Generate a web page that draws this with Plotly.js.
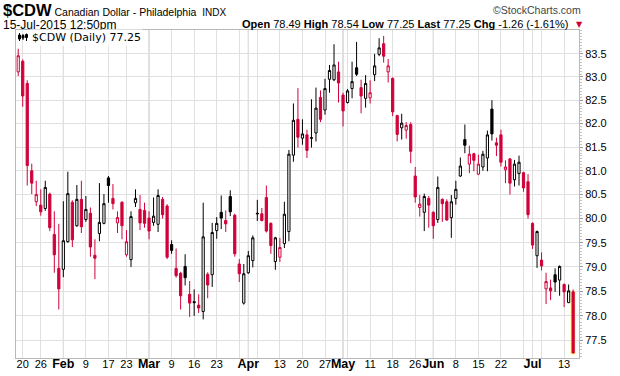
<!DOCTYPE html>
<html><head><meta charset="utf-8">
<script src="https://cdn.plot.ly/plotly-3.0.1.min.js"></script>
<style>html,body{margin:0;padding:0;background:#fff;}#chart{width:620px;height:376px;}</style>
</head><body><div id="chart"></div>
<script>
// ---- data ----
const dates = [
'2015-01-16','2015-01-20','2015-01-21','2015-01-22','2015-01-23','2015-01-26','2015-01-27','2015-01-28','2015-01-29','2015-01-30',
'2015-02-02','2015-02-03','2015-02-04','2015-02-05','2015-02-06','2015-02-09','2015-02-10','2015-02-11','2015-02-12','2015-02-13',
'2015-02-17','2015-02-18','2015-02-19','2015-02-20','2015-02-23','2015-02-24','2015-02-25','2015-02-26','2015-02-27',
'2015-03-02','2015-03-03','2015-03-04','2015-03-05','2015-03-06','2015-03-09','2015-03-10','2015-03-11','2015-03-12','2015-03-13',
'2015-03-16','2015-03-17','2015-03-18','2015-03-19','2015-03-20','2015-03-23','2015-03-24','2015-03-25','2015-03-26','2015-03-27',
'2015-03-30','2015-03-31',
'2015-04-01','2015-04-02','2015-04-06','2015-04-07','2015-04-08','2015-04-09','2015-04-10','2015-04-13','2015-04-14','2015-04-15',
'2015-04-16','2015-04-17','2015-04-20','2015-04-21','2015-04-22','2015-04-23','2015-04-24','2015-04-27','2015-04-28','2015-04-29','2015-04-30',
'2015-05-01','2015-05-04','2015-05-05','2015-05-06','2015-05-07','2015-05-08','2015-05-11','2015-05-12','2015-05-13','2015-05-14',
'2015-05-15','2015-05-18','2015-05-19','2015-05-20','2015-05-21','2015-05-22','2015-05-26','2015-05-27','2015-05-28','2015-05-29',
'2015-06-01','2015-06-02','2015-06-03','2015-06-04','2015-06-05','2015-06-08','2015-06-09','2015-06-10','2015-06-11','2015-06-12',
'2015-06-15','2015-06-16','2015-06-17','2015-06-18','2015-06-19','2015-06-22','2015-06-23','2015-06-24','2015-06-25','2015-06-26',
'2015-06-29','2015-06-30',
'2015-07-01','2015-07-02','2015-07-06','2015-07-07','2015-07-08','2015-07-09','2015-07-10','2015-07-13','2015-07-14','2015-07-15'];

const open = [83.11,83.34,82.86,81.00,80.35,80.28,80.21,80.51,79.67,78.97,
78.95,79.52,80.34,79.85,80.40,79.98,80.11,79.24,79.69,79.90,
80.85,80.42,79.91,80.34,79.25,79.15,80.33,80.19,80.17,
80.01,79.92,79.88,80.40,80.26,79.46,78.97,78.87,79.01,78.44,
78.29,78.22,78.09,78.85,78.84,79.75,80.13,79.96,80.46,80.07,
79.06,78.26,
78.88,79.13,80.11,80.10,80.44,79.90,79.11,79.20,79.48,79.73,
81.33,82.09,81.69,81.76,81.70,81.80,82.56,82.29,82.95,82.94,83.11,
82.61,82.45,82.75,83.20,82.77,82.54,82.55,83.05,83.49,83.72,
83.11,82.97,82.17,81.91,81.86,81.98,80.89,80.23,80.13,80.42,
80.13,79.98,80.40,80.35,80.02,80.42,80.89,81.66,81.14,81.36,
80.93,81.08,81.27,82.31,81.59,81.76,81.02,81.25,80.81,80.94,
80.96,80.77,
79.90,79.23,79.14,78.55,78.57,78.84,78.73,78.64,78.27,78.49];

const high = [83.61,83.38,82.93,81.15,80.79,80.61,80.79,80.54,80.15,79.89,
80.36,80.98,80.38,80.70,80.79,80.47,80.23,79.57,80.74,80.51,
80.89,80.72,80.15,80.36,79.76,80.15,80.61,80.49,80.33,
80.15,80.44,80.61,80.45,80.30,79.55,79.38,78.90,79.26,78.71,
78.54,78.44,80.33,78.89,79.91,80.03,80.48,80.17,80.59,80.10,
79.16,79.06,
79.33,79.65,80.39,80.22,80.69,79.92,79.62,79.60,80.35,81.44,
82.43,82.76,82.09,81.87,82.52,82.77,82.71,82.96,83.26,83.71,83.33,
82.66,82.74,83.33,83.76,82.94,83.04,82.93,83.50,83.84,83.89,
83.39,82.99,82.19,82.21,82.03,82.03,81.08,80.49,80.52,80.47,
80.15,80.88,80.42,80.40,80.49,80.79,81.28,81.98,81.53,81.38,
81.34,81.42,81.85,82.50,81.70,81.87,81.22,81.27,81.23,81.32,
80.98,80.93,
79.92,79.75,79.30,78.88,78.74,78.97,79.03,78.66,78.64,78.54];

const low = [83.02,82.36,80.69,80.51,80.26,80.06,80.16,79.74,78.88,78.13,
78.79,79.50,79.41,79.83,79.70,79.93,79.21,78.75,79.53,79.88,
80.33,80.19,79.70,79.57,79.21,79.00,80.24,79.76,79.81,
79.57,79.85,79.72,80.00,79.16,79.27,78.78,78.13,78.62,77.98,
78.00,78.06,77.93,78.36,78.59,79.58,79.78,79.72,80.05,79.21,
78.69,78.23,
78.86,78.99,79.95,79.94,79.71,79.27,78.94,79.10,79.39,79.53,
81.19,81.49,81.55,81.27,81.49,81.62,82.03,82.19,82.66,82.91,82.45,
81.94,82.43,82.54,83.02,82.22,82.34,82.43,82.91,83.45,83.31,
82.88,82.16,81.62,81.66,81.68,81.16,80.33,80.04,79.74,79.81,
79.58,79.91,79.93,79.95,79.60,80.29,80.87,81.37,80.95,80.99,
80.91,81.00,80.99,81.64,81.31,81.09,80.74,80.50,80.67,80.69,
80.56,80.00,
79.37,78.98,78.93,78.24,78.32,78.49,78.41,78.18,78.26,77.25];

const close = [83.46,82.59,81.11,80.74,80.50,80.14,80.65,79.81,79.25,78.55,
79.54,80.52,79.56,80.40,79.83,80.19,79.41,79.18,79.92,80.31,
80.69,80.31,80.02,79.85,79.52,80.04,80.42,79.91,79.90,
79.74,80.05,80.48,80.08,79.20,79.34,78.82,78.41,78.78,78.26,
78.27,78.16,79.62,78.63,79.71,79.90,80.01,79.89,80.14,79.27,
78.86,78.86,
79.23,79.60,80.10,79.96,79.74,79.44,79.60,79.40,80.09,81.35,
82.07,81.71,81.78,81.43,81.69,82.33,82.09,82.75,83.14,83.26,82.87,
82.27,82.70,82.90,83.06,82.59,82.86,82.66,83.24,83.63,83.45,
83.24,82.25,81.77,82.01,81.96,81.41,80.45,80.30,80.46,80.28,
79.85,80.65,80.31,79.97,80.35,80.61,81.10,81.54,81.35,81.22,
81.14,81.35,81.76,81.78,81.54,81.18,81.08,80.74,81.14,81.18,
80.64,80.08,
79.45,79.73,79.02,78.70,78.51,78.69,79.01,78.49,78.51,77.25];

const priorClose = 83.60;   // close of the session before the first candle

const yTicks = [77.5,78.0,78.5,79.0,79.5,80.0,80.5,81.0,81.5,82.0,82.5,83.0,83.5];

const weekTickDates = ['2015-01-20','2015-01-26','2015-02-02','2015-02-09','2015-02-17','2015-02-23',
'2015-03-02','2015-03-09','2015-03-16','2015-03-23','2015-03-30','2015-04-01','2015-04-06','2015-04-13',
'2015-04-20','2015-04-27','2015-05-01','2015-05-04','2015-05-11','2015-05-18','2015-05-26','2015-06-01',
'2015-06-08','2015-06-15','2015-06-22','2015-06-29','2015-07-01','2015-07-06','2015-07-13'];
const weekTickLabels = ['20','26','Feb','9','17','23',
'Mar','9','16','23','','Apr','','13',
'20','27','May','','11','18','26','Jun',
'8','15','22','','Jul','','13'];
const monthStartDates = ['2015-02-02','2015-03-02','2015-04-01','2015-05-01','2015-06-01','2015-07-01'];

const headerTitle = '$CDW';
const headerName = 'Canadian Dollar - Philadelphia';
const headerExchange = 'INDX';
const headerTime = '15-Jul-2015 12:50pm';
const headerQuote = [['Open','78.49'],['High','78.54'],['Low','77.25'],['Last','77.25'],['Chg','-1.26 (-1.61%)']];
const legendText = '$CDW (Daily) 77.25';

// ---- styling ----
const RED = '#d1003a', BLACK = '#000000';
const L = 16, R = 579, T = 30, B = 358;
const W = 620, H = 376;
const P = (px, py) => ({x: (px - L) / (R - L), y: (B - py) / (B - T)});

// classify candles like StockCharts: colour vs previous close, hollow when close > open
const groups = {};
for (let i = 0; i < dates.length; i++) {
  const prev = i === 0 ? priorClose : close[i - 1];
  const col = close[i] >= prev ? 'black' : 'red';
  const fill = close[i] > open[i] ? 'hollow' : 'filled';
  const k = col + '-' + fill;
  if (!groups[k]) groups[k] = {x: [], o: [], h: [], l: [], c: [], col, fill};
  const g = groups[k];
  g.x.push(dates[i]); g.o.push(open[i]); g.h.push(high[i]); g.l.push(low[i]); g.c.push(close[i]);
}
const traces = Object.values(groups).map(g => {
  const lc = g.col === 'black' ? BLACK : RED;
  const fc = g.fill === 'hollow' ? '#ffffff' : lc;
  const side = {line: {color: lc, width: 1}, fillcolor: fc};
  return {type: 'candlestick', x: g.x, open: g.o, high: g.h, low: g.l, close: g.c,
    increasing: side, decreasing: side, whiskerwidth: 0, hoverinfo: 'skip', showlegend: false};
});

const n = dates.length, last = n - 1;
const shapes = monthStartDates.map(d => ({type: 'line', xref: 'x', yref: 'paper',
  x0: dates.indexOf(d), x1: dates.indexOf(d), y0: 0, y1: 1, layer: 'below',
  line: {color: '#bdbdbd', width: 1}}));
// highlight of the latest candle
shapes.push({type: 'rect', xref: 'x', yref: 'y', layer: 'below',
  x0: last - 0.58, x1: last + 0.58, y0: low[last] - 0.025, y1: Math.max(open[last], close[last]) + 0.025,
  fillcolor: '#ffff66', line: {width: 0}});
// small legend icon
const ic = [[19.5, 33, 41, 35, 39], [23, 34, 40, 35.5, 38], [26.5, 33.5, 41, 34.5, 37.5]];
ic.forEach(([x, y0, y1, b0, b1]) => {
  const a = P(x, y0), b = P(x, y1), c = P(x - 1, b0), d = P(x + 1, b1);
  shapes.push({type: 'line', xref: 'paper', yref: 'paper', x0: a.x, x1: a.x, y0: a.y, y1: b.y, line: {color: '#000', width: 1}});
  shapes.push({type: 'rect', xref: 'paper', yref: 'paper', x0: c.x, x1: d.x, y0: c.y, y1: d.y, fillcolor: '#000', line: {color: '#000', width: 1}});
});

const SANS = 'Liberation Sans, Arial, sans-serif';
const ann = (px, py, text, xanchor, font, extra) => Object.assign({xref: 'paper', yref: 'paper',
  x: P(px, py).x, y: P(px, py).y, text, xanchor, yanchor: 'middle', showarrow: false, font}, extra || {});

const quoteText = headerQuote.map(([k, v]) => '<b>' + k + '</b> ' + v).join(' ');
const annotations = [
  ann(2, 9.5, '<b><span style="font-size:16.5px">' + headerTitle + '</span></b> ' + headerName +
     '  <span style="font-size:10px">' + headerExchange + '</span>', 'left', {family: SANS, size: 10.5, color: '#000'}, {borderpad: 0}),
  ann(583, 10.5, '\u00a9StockCharts.com', 'right', {family: SANS, size: 10.5, color: '#444'}),
  ann(2, 25, headerTime, 'left', {family: SANS, size: 12, color: '#000'}, {borderpad: 0}),
  ann(571, 24, quoteText, 'right', {family: SANS, size: 11, color: '#000'}),
  ann(579, 24.5, '\u25BC', 'center', {family: 'DejaVu Sans, sans-serif', size: 8, color: RED}),
  ann(30, 37.5, legendText, 'left', {family: 'DejaVu Sans, sans-serif', size: 11, color: '#000'},
     {bgcolor: '#ffffff', borderpad: 1})
];

// minor tick marks (dotted rulers along the axes)
const minorY = [];
for (let v = 77.125; v <= 84.0; v += 0.0625) minorY.push(+v.toFixed(4));

const monthNames = new Set(['Feb','Mar','Apr','May','Jun','Jul']);
const tickText = weekTickLabels.map(t => monthNames.has(t) ? '<b><span style="font-size:12.5px">' + t + '</span></b>' : t);

const layout = {
  width: W, height: H,
  margin: {l: L, r: W - R, t: T, b: H - B, pad: 0},
  paper_bgcolor: '#fff', plot_bgcolor: '#fff',
  showlegend: false, dragmode: false,
  xaxis: {type: 'category', categoryorder: 'array', categoryarray: dates,
    range: [-0.49, n + 0.3], tickmode: 'array', tickvals: weekTickDates, ticktext: tickText,
    tickangle: 0, automargin: false,
    showgrid: true, gridcolor: '#e0e0e0', gridwidth: 1, ticks: '', showline: true, mirror: true,
    linecolor: '#b8b8b8', linewidth: 1, zeroline: false, ticklabelstandoff: -4,
    tickfont: {family: SANS, size: 11, color: '#000'}, rangeslider: {visible: false}, fixedrange: true},
  xaxis2: {type: 'category', categoryorder: 'array', categoryarray: dates, overlaying: 'x', anchor: 'y',
    side: 'bottom', range: [-0.49, n + 0.3], tickmode: 'array', tickvals: dates, ticktext: dates.map(() => ''),
    ticks: 'outside', ticklen: 2, tickwidth: 1, tickcolor: '#c4c4c4', showgrid: false, showline: false,
    showticklabels: false, zeroline: false, fixedrange: true},
  yaxis: {type: 'log', side: 'right', range: [Math.log10(77.151), Math.log10(84.02)],
    tickmode: 'array', tickvals: yTicks, ticktext: yTicks.map(v => v.toFixed(1)),
    showgrid: true, gridcolor: '#e0e0e0', gridwidth: 1, ticks: 'outside', ticklen: 3, tickcolor: '#999',
    minor: {tickmode: 'array', tickvals: minorY, ticks: 'outside', ticklen: 2, tickcolor: '#c4c4c4', showgrid: false},
    showline: true, mirror: true, linecolor: '#b8b8b8', linewidth: 1, zeroline: false,
    tickfont: {family: SANS, size: 11, color: '#000'}, fixedrange: true},
  shapes, annotations
};

Plotly.newPlot('chart', traces, layout, {displayModeBar: false, staticPlot: true});
</script></body></html>
